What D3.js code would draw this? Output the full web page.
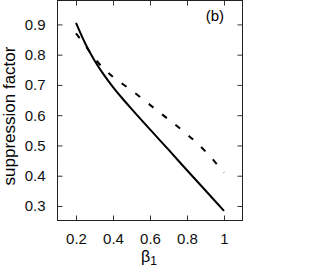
<!DOCTYPE html>
<html>
<head>
<meta charset="utf-8">
<script src="https://cdn.jsdelivr.net/npm/d3@7"></script>
<style>
  body { margin: 0; background: #fff; }
  svg { display: block; font-family: "Liberation Sans", Arial, sans-serif; }
</style>
</head>
<body>
<div id="chart"></div>
<script>
// values
const beta = [0.2, 0.25, 0.3, 0.35, 0.4, 0.45, 0.5, 0.6, 0.7, 0.8, 0.9, 1.0];
const solidVals = [0.905, 0.837, 0.781, 0.734, 0.693, 0.656, 0.621, 0.553, 0.486, 0.418, 0.351, 0.284];
const dashedVals = [0.87, 0.83, 0.788, 0.754, 0.727, 0.704, 0.682, 0.634, 0.586, 0.537, 0.48, 0.41];
const xTicks = [0.2, 0.4, 0.6, 0.8, 1];
const yTicks = [0.3, 0.4, 0.5, 0.6, 0.7, 0.8, 0.9];

const width = 332, height = 270;
const plotLeft = 57.5, plotRight = 242.5, plotTop = 0.5, plotBottom = 220.5;

const svg = d3.select("#chart").append("svg")
    .attr("width", width)
    .attr("height", height);

const x = d3.scaleLinear().domain([0.1, 1.1]).range([plotLeft, plotRight]);
const y = d3.scaleLinear().domain([0.252, 0.979]).range([plotBottom, plotTop]);

// ticks point inward on all four sides, labels only bottom/left
const fmt = d => d === 1 ? "1" : d3.format(".1f")(d);

svg.append("g").attr("transform", `translate(0,${plotBottom})`)
    .call(d3.axisBottom(x).tickValues(xTicks).tickSizeInner(-5).tickSizeOuter(0).tickPadding(13).tickFormat(fmt));
svg.append("g").attr("transform", `translate(0,${plotTop})`)
    .call(d3.axisTop(x).tickValues(xTicks).tickSizeInner(-5).tickSizeOuter(0).tickFormat(""));
svg.append("g").attr("transform", `translate(${plotLeft},0)`)
    .call(d3.axisLeft(y).tickValues(yTicks).tickSizeInner(-5).tickSizeOuter(0).tickPadding(12).tickFormat(d3.format(".1f")));
svg.append("g").attr("transform", `translate(${plotRight},0)`)
    .call(d3.axisRight(y).tickValues(yTicks).tickSizeInner(-5).tickSizeOuter(0).tickFormat(""));

svg.selectAll(".domain").remove();
svg.selectAll(".tick line").attr("stroke", "#333");
svg.selectAll(".tick text").attr("font-size", 15).attr("fill", "#111")
    .attr("font-family", "Liberation Sans, Arial, sans-serif");

// frame
svg.append("rect")
    .attr("x", plotLeft).attr("y", plotTop)
    .attr("width", plotRight - plotLeft).attr("height", plotBottom - plotTop)
    .attr("fill", "none").attr("stroke", "#222").attr("stroke-width", 1);

const line = d3.line()
    .x((d, i) => x(beta[i]))
    .y(d => y(d))
    .curve(d3.curveMonotoneX);

svg.append("path")
    .datum(dashedVals)
    .attr("fill", "none")
    .attr("stroke", "#000")
    .attr("stroke-width", 2)
    .attr("stroke-dasharray", "6,11")
    .attr("d", line);

svg.append("path")
    .datum(solidVals)
    .attr("fill", "none")
    .attr("stroke", "#000")
    .attr("stroke-width", 2)
    .attr("d", line);

// labels
svg.append("text")
    .attr("x", 224).attr("y", 21)
    .attr("text-anchor", "end")
    .attr("font-size", 15)
    .text("(b)");

svg.append("text")
    .attr("transform", `translate(15,116) rotate(-90)`)
    .attr("text-anchor", "middle")
    .attr("font-size", 17)
    .text("suppression factor");

const xl = svg.append("text")
    .attr("x", 149).attr("y", 262)
    .attr("text-anchor", "middle")
    .attr("font-size", 16);
xl.append("tspan").text("β");
xl.append("tspan").attr("font-size", 12).attr("dy", 3).text("1");
</script>
</body>
</html>
